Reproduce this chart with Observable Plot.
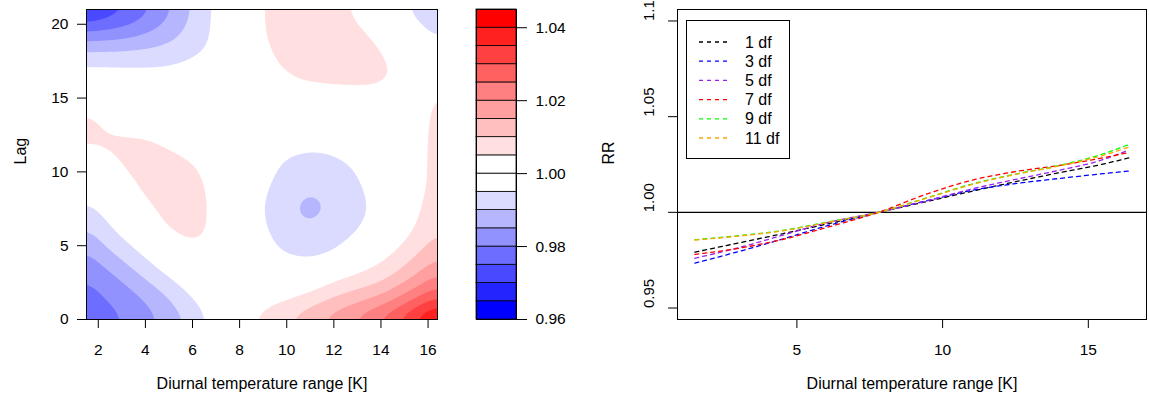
<!DOCTYPE html>
<html><head><meta charset="utf-8">
<script src="https://cdn.jsdelivr.net/npm/d3@7"></script>
<script src="https://cdn.jsdelivr.net/npm/@observablehq/plot@0.6"></script>
<style>
html,body{margin:0;padding:0;background:#fff;}
#wrap{position:relative;width:1149px;height:407px;overflow:hidden;background:#fff;font-family:"Liberation Sans",Arial,sans-serif;}
#wrap > div{position:absolute;top:0;}
</style></head><body>
<div id="wrap">
 <div id="contour" style="left:0px"></div>
 <div id="key" style="left:440px"></div>
 <div id="lines" style="left:580px"></div>
</div>
<script>
// ---- Left panel: lag-response surface (RR) ----
const dtrGrid = [1.5, 2, 3, 4, 5, 6, 7, 8, 9, 10, 11, 12, 13, 14, 15, 16, 16.4];
const lagGrid = [0, 1.5, 3, 4.5, 6, 7.5, 9, 10.5, 12, 13.5, 15, 16.5, 18, 19.5, 21];
const rrSurface = [
  [0.9760, 0.9772, 0.9795, 0.9829, 0.9866, 0.9912, 0.9972, 1.0028, 1.0070, 1.0100, 1.0140, 1.0178, 1.0218, 1.0269, 1.0333, 1.0413, 1.0440],
  [0.9780, 0.9791, 0.9820, 0.9854, 0.9899, 0.9955, 0.9983, 1.0004, 1.0024, 1.0040, 1.0068, 1.0100, 1.0126, 1.0156, 1.0212, 1.0273, 1.0300],
  [0.9802, 0.9821, 0.9862, 0.9911, 0.9958, 0.9985, 1.0000, 1.0000, 0.9998, 0.9992, 0.9993, 1.0029, 1.0054, 1.0073, 1.0121, 1.0178, 1.0200],
  [0.9840, 0.9872, 0.9917, 0.9962, 1.0002, 1.0036, 1.0018, 0.9995, 0.9970, 0.9945, 0.9935, 0.9948, 0.9988, 1.0030, 1.0070, 1.0117, 1.0141],
  [0.9891, 0.9918, 0.9965, 1.0005, 1.0052, 1.0070, 1.0038, 0.9996, 0.9957, 0.9922, 0.9908, 0.9920, 0.9945, 0.9984, 1.0032, 1.0079, 1.0098],
  [0.9935, 0.9953, 0.9999, 1.0035, 1.0070, 1.0078, 1.0034, 0.9991, 0.9950, 0.9910, 0.9880, 0.9908, 0.9940, 0.9962, 1.0018, 1.0062, 1.0085],
  [0.9978, 0.9992, 1.0025, 1.0062, 1.0084, 1.0074, 1.0030, 0.9995, 0.9960, 0.9922, 0.9906, 0.9920, 0.9942, 0.9975, 1.0012, 1.0050, 1.0078],
  [1.0011, 1.0026, 1.0054, 1.0077, 1.0074, 1.0054, 1.0024, 0.9998, 0.9972, 0.9942, 0.9930, 0.9938, 0.9955, 0.9990, 1.0015, 1.0050, 1.0074],
  [1.0056, 1.0062, 1.0064, 1.0060, 1.0040, 1.0018, 1.0005, 0.9998, 0.9985, 0.9968, 0.9962, 0.9965, 0.9982, 0.9998, 1.0015, 1.0050, 1.0070],
  [1.0066, 1.0052, 1.0026, 1.0018, 1.0010, 1.0002, 0.9998, 0.9998, 1.0002, 1.0000, 0.9998, 1.0000, 1.0008, 1.0012, 1.0015, 1.0048, 1.0068],
  [1.0022, 1.0014, 1.0005, 1.0000, 0.9998, 0.9998, 1.0002, 1.0012, 1.0025, 1.0033, 1.0033, 1.0035, 1.0035, 1.0036, 1.0022, 1.0042, 1.0060],
  [0.9975, 0.9975, 0.9972, 0.9970, 0.9972, 0.9982, 0.9995, 1.0018, 1.0035, 1.0046, 1.0056, 1.0060, 1.0062, 1.0060, 1.0040, 1.0028, 1.0028],
  [0.9915, 0.9915, 0.9915, 0.9917, 0.9922, 0.9940, 0.9968, 1.0002, 1.0038, 1.0068, 1.0078, 1.0076, 1.0068, 1.0055, 1.0022, 0.9990, 0.9975],
  [0.9800, 0.9803, 0.9812, 0.9838, 0.9872, 0.9916, 0.9962, 1.0006, 1.0050, 1.0072, 1.0080, 1.0072, 1.0058, 1.0035, 0.9990, 0.9950, 0.9935],
  [0.9670, 0.9689, 0.9732, 0.9780, 0.9838, 0.9904, 0.9961, 1.0007, 1.0052, 1.0070, 1.0075, 1.0065, 1.0038, 1.0005, 0.9950, 0.9920, 0.9900]
];
const levels = [0.960, 0.965, 0.970, 0.975, 0.980, 0.985, 0.990, 0.995, 1.000,
                1.005, 1.010, 1.015, 1.020, 1.025, 1.030, 1.035, 1.040, 1.045];
const keyTicks = [0.96, 0.98, 1.00, 1.02, 1.04];
const contourXTicks = [2, 4, 6, 8, 10, 12, 14, 16];
const contourYTicks = [0, 5, 10, 15, 20];

// ---- Right panel: overall cumulative RR by df ----
const dtrPoints = [1.5, 3, 4.5, 6, 7.8, 9.5, 11, 12.5, 14, 15.5, 16.4];
const rr1df  = [0.9792, 0.9840, 0.9888, 0.9938, 1.0000, 1.0058, 1.0110, 1.0160, 1.0207, 1.0252, 1.0285];
const rr3df  = [0.9735, 0.9795, 0.9860, 0.9928, 1.0000, 1.0062, 1.0115, 1.0150, 1.0177, 1.0202, 1.0216];
const rr5df  = [0.9760, 0.9815, 0.9880, 0.9945, 1.0000, 1.0062, 1.0122, 1.0172, 1.0220, 1.0275, 1.0327];
const rr7df  = [0.9780, 0.9812, 0.9858, 0.9920, 1.0000, 1.0098, 1.0168, 1.0213, 1.0245, 1.0285, 1.0313];
const rr9df  = [0.9857, 0.9878, 0.9905, 0.9948, 1.0000, 1.0078, 1.0148, 1.0200, 1.0245, 1.0305, 1.0355];
const rr11df = [0.9855, 0.9876, 0.9903, 0.9946, 1.0000, 1.0076, 1.0145, 1.0198, 1.0242, 1.0298, 1.0341];
const seriesNames = ["1 df", "3 df", "5 df", "7 df", "9 df", "11 df"];
const seriesColors = ["#000000", "#0000FF", "#A020F0", "#FF0000", "#00FF00", "#FFA500"];
const rrTicks = [0.95, 1.00, 1.05, 1.10];
const linesXTicks = [5, 10, 15];
const referenceRR = 1;
const xTitle = "Diurnal temperature range [K]";

// ---- build ----
const blueRamp = d3.range(8).map(k => d3.interpolateRgb("blue", "white")(k / 7));
const redRamp = d3.range(9).map(k => d3.interpolateRgb("white", "red")(k / 8));
const levelColors = blueRamp.concat(redRamp);
const colorScale = {type: "threshold", domain: levels.slice(1, -1), range: levelColors};

const font = {fontFamily: '"Liberation Sans", Arial, sans-serif', fontSize: "16px", background: "transparent", color: "black", overflow: "visible"};
const tickFont = 15.5;

const surface = [];
lagGrid.forEach((lag, i) => dtrGrid.forEach((x, j) => surface.push({dtr: x, lag, rr: rrSurface[i][j]})));

const left = Plot.plot({
  width: 440, height: 407, marginLeft: 86, marginRight: 3, marginTop: 9, marginBottom: 88,
  x: {domain: [1.5, 16.4]}, y: {domain: [0, 21]},
  color: colorScale,
  style: font,
  marks: [
    Plot.contour(surface, {x: "dtr", y: "lag", fill: "rr", thresholds: levels, interpolate: "barycentric", blur: 4, stroke: "none"}),
    Plot.frame({stroke: "black"}),
    Plot.axisX({ticks: contourXTicks, tickSize: 9, tickPadding: 15, label: null, fontSize: tickFont}),
    Plot.axisY({ticks: contourYTicks, tickSize: 9, tickPadding: 9, label: null, fontSize: tickFont}),
    Plot.text([xTitle], {text: d => d, frameAnchor: "bottom", dy: 69, fill: "black"}),
    Plot.text(["Lag"], {text: d => d, frameAnchor: "left", dx: -66, rotate: -90, fill: "black"})
  ]
});
document.getElementById("contour").appendChild(left);

const bands = d3.range(levels.length - 1).map(i => ({lo: levels[i], hi: levels[i + 1]}));
const key = Plot.plot({
  width: 140, height: 407, marginLeft: 36, marginRight: 64, marginTop: 9, marginBottom: 88,
  y: {domain: [levels[0], levels[levels.length - 1]]},
  color: colorScale,
  style: font,
  marks: [
    Plot.rect(bands, {y1: "lo", y2: "hi", fill: "lo", stroke: "black", strokeWidth: 0.8}),
    Plot.frame({stroke: "black"}),
    Plot.axisY({anchor: "right", ticks: keyTicks, tickFormat: d3.format(".2f"), tickSize: 10, tickPadding: 9, label: null, fontSize: tickFont})
  ]
});
document.getElementById("key").appendChild(key);

const allSeries = [rr1df, rr3df, rr5df, rr7df, rr9df, rr11df];
const lineData = allSeries.flatMap((vals, s) => vals.map((v, i) => ({dtr: dtrPoints[i], rr: v, name: seriesNames[s]})));
const right = Plot.plot({
  width: 569, height: 407, marginLeft: 97, marginRight: 3, marginTop: 9, marginBottom: 88,
  x: {domain: [0.904, 16.996]}, y: {domain: [0.944, 1.106]},
  color: {domain: seriesNames, range: seriesColors},
  style: font,
  marks: [
    Plot.ruleY([referenceRR], {stroke: "black", strokeWidth: 1.2}),
    Plot.line(lineData, {x: "dtr", y: "rr", z: "name", stroke: "name", strokeDasharray: "4,4", strokeWidth: 1.3, curve: "monotone-x"}),
    Plot.frame({stroke: "black"}),
    Plot.axisX({ticks: linesXTicks, tickSize: 9, tickPadding: 15, label: null, fontSize: tickFont}),
    Plot.axisY({ticks: rrTicks, tickSize: 9, tickFormat: () => "", label: null}),
    Plot.text(rrTicks, {y: d => d, text: d => d3.format(".2f")(d), frameAnchor: "left", dx: -28, rotate: -90, fill: "black", fontSize: 15}),
    Plot.text([xTitle], {text: d => d, frameAnchor: "bottom", dy: 69, fill: "black"}),
    Plot.text(["RR"], {text: d => d, frameAnchor: "left", dx: -69, rotate: -90, fill: "black"})
  ]
});
document.getElementById("lines").appendChild(right);

// legend box inside the right panel
const leg = d3.select("#wrap").append("svg")
  .attr("width", 105).attr("height", 140)
  .style("position", "absolute").style("left", "685.5px").style("top", "19.5px")
  .style("font-family", '"Liberation Sans", Arial, sans-serif').style("font-size", "16px");
leg.append("rect").attr("x", 0.5).attr("y", 0.5).attr("width", 103).attr("height", 138)
  .attr("fill", "white").attr("stroke", "black");
seriesNames.forEach((name, i) => {
  const yy = 22 + 19.2 * i;
  leg.append("line").attr("x1", 13).attr("x2", 44).attr("y1", yy).attr("y2", yy)
    .attr("stroke", seriesColors[i]).attr("stroke-width", 1.3).attr("stroke-dasharray", "4,4");
  leg.append("text").attr("x", 59).attr("y", yy).attr("dy", "0.35em").attr("fill", "black").text(name);
});
</script>
</body></html>
